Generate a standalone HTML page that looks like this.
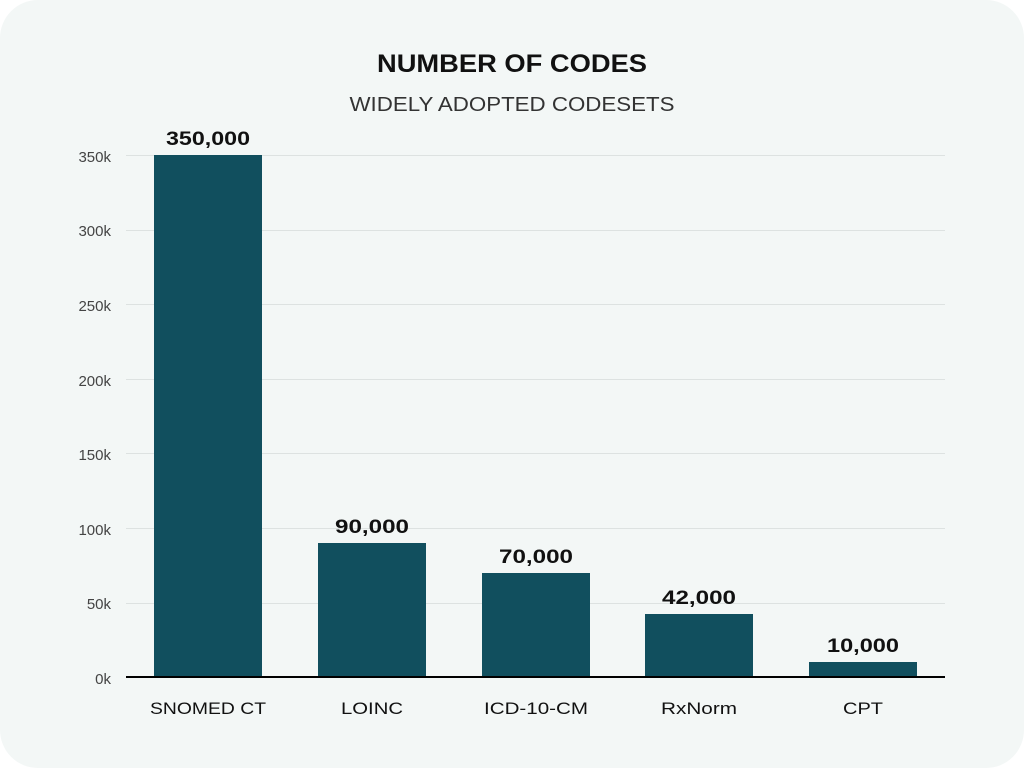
<!DOCTYPE html>
<html><head><meta charset="utf-8"><style>
html,body{margin:0;padding:0;background:#fff;}
</style></head><body>
<svg width="1024" height="768" xmlns="http://www.w3.org/2000/svg" font-family="Liberation Sans, sans-serif">
<rect x="0" y="0" width="1024" height="768" rx="38" fill="#f3f7f6"/>
<text x="512" y="72" text-anchor="middle" font-size="25" font-weight="bold" fill="#111" textLength="270" lengthAdjust="spacingAndGlyphs">NUMBER OF CODES</text>
<text x="512" y="111" text-anchor="middle" font-size="20" fill="#333" textLength="325" lengthAdjust="spacingAndGlyphs">WIDELY ADOPTED CODESETS</text>
<g stroke="#dde2e1" stroke-width="1">
<line x1="126" x2="945" y1="155.5" y2="155.5"/>
<line x1="126" x2="945" y1="230.5" y2="230.5"/>
<line x1="126" x2="945" y1="304.5" y2="304.5"/>
<line x1="126" x2="945" y1="379.5" y2="379.5"/>
<line x1="126" x2="945" y1="453.5" y2="453.5"/>
<line x1="126" x2="945" y1="528.5" y2="528.5"/>
<line x1="126" x2="945" y1="603.5" y2="603.5"/>
</g>
<g font-size="15" fill="#444" text-anchor="end">
<text x="111" y="162">350k</text>
<text x="111" y="236">300k</text>
<text x="111" y="311">250k</text>
<text x="111" y="386">200k</text>
<text x="111" y="460">150k</text>
<text x="111" y="535">100k</text>
<text x="111" y="609">50k</text>
<text x="111" y="684">0k</text>
</g>
<g fill="#114f5e">
<rect x="154" y="155" width="108" height="522"/>
<rect x="318" y="543" width="108" height="134"/>
<rect x="482" y="573" width="108" height="104"/>
<rect x="645" y="614" width="108" height="63"/>
<rect x="809" y="662" width="108" height="15"/>
</g>
<line x1="126" x2="945" y1="677" y2="677" stroke="#000" stroke-width="2"/>
<g font-size="19" font-weight="bold" fill="#111" text-anchor="middle" lengthAdjust="spacingAndGlyphs">
<text x="208" y="145" textLength="84" lengthAdjust="spacingAndGlyphs">350,000</text>
<text x="372" y="533" textLength="74" lengthAdjust="spacingAndGlyphs">90,000</text>
<text x="536" y="563" textLength="74" lengthAdjust="spacingAndGlyphs">70,000</text>
<text x="699" y="604" textLength="74" lengthAdjust="spacingAndGlyphs">42,000</text>
<text x="863" y="652" textLength="72" lengthAdjust="spacingAndGlyphs">10,000</text>
</g>
<g font-size="17" fill="#111" text-anchor="middle">
<text x="208" y="714" textLength="116" lengthAdjust="spacingAndGlyphs">SNOMED CT</text>
<text x="372" y="714" textLength="62" lengthAdjust="spacingAndGlyphs">LOINC</text>
<text x="536" y="714" textLength="104" lengthAdjust="spacingAndGlyphs">ICD-10-CM</text>
<text x="699" y="714" textLength="76" lengthAdjust="spacingAndGlyphs">RxNorm</text>
<text x="863" y="714" textLength="40" lengthAdjust="spacingAndGlyphs">CPT</text>
</g>
</svg>
</body></html>
